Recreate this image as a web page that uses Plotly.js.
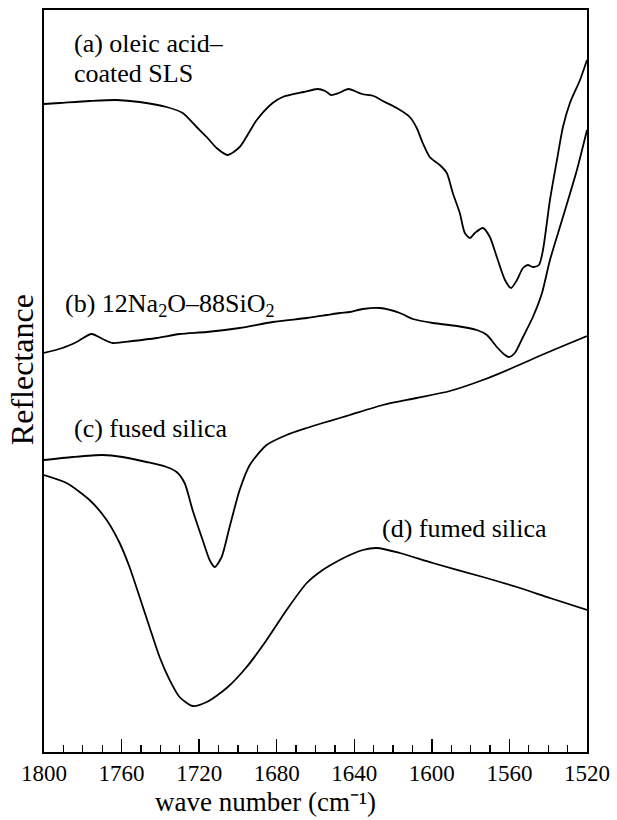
<!DOCTYPE html>
<html>
<head>
<meta charset="utf-8">
<script src="https://cdn.plot.ly/plotly-3.0.1.min.js"></script>
<style>html,body{margin:0;padding:0;background:#fff;}#chart{width:617px;height:820px;}</style>
</head>
<body>
<div id="chart"></div>
<script>
// wave number (cm^-1) and reflectance (arbitrary units, offset spectra)
const wnA = [1800,1792,1776.5,1762.6,1750.7,1736.8,1728.5,1721.3,1716.1,1711,1705.3,1699.1,1690.3,1682.1,1676.9,1666,1659,1655,1652,1648,1643,1636,1630,1625.3,1618.1,1611.4,1607.8,1604.7,1601.1,1595.9,1592.3,1589.2,1585.6,1583,1580.4,1577.8,1573.7,1570.1,1566.5,1562.3,1559.2,1556.1,1553,1550.5,1547.9,1544.8,1542.7,1539.1,1535.5,1532.4,1528.8,1523.6,1520];
const rA  = [648,649,651,652,650,645,639,625,615,604,597,605,632,649,655,660,663,661,657,659,663,658,656,651,644,635,624,609,595,587,579,559,539,519,514,519,524,515,495,472,464,472,484,487,485,487,502,552,592,625,649,672,692];

const wnB = [1800,1790.5,1783.2,1775.5,1769.8,1764.6,1754.3,1741.9,1730.1,1716.1,1699.1,1682.1,1664.5,1654.2,1647.5,1642.3,1635.6,1626.8,1616.5,1609.8,1599.5,1587.1,1576.8,1571.6,1566.5,1562.3,1560.3,1557.2,1553,1547.9,1543.2,1539.1,1532.4,1525.2,1520];
const rB  = [399,404,410,418,413,409,411,414,418,420,424,430,434,437,439,440,443,444,439,433,429,426,422,417,405,397,395,399,415,435,459,492,535,582,622];

const wnC = [1800,1785.3,1769.8,1759.5,1747.1,1736.8,1731.6,1727.5,1723.4,1718.2,1714.6,1712,1708.4,1704.3,1699.1,1693.9,1685.2,1674.9,1664.5,1656.3,1647.5,1642.3,1625.3,1607.8,1590.7,1573.7,1559.8,1545.8,1532.4,1520];
const rC  = [292,295,297,295,290,285,280,269,242,212,192,185,195,225,262,287,307,317,324,329,334,337,347,354,361,372,383,395,406,416];

const wnD = [1800,1788.4,1776.5,1767.7,1761,1755.9,1750.7,1745.6,1740.4,1735.2,1730.1,1723.4,1716.1,1705.8,1695.5,1685.2,1674.9,1664.5,1656.3,1647.5,1642.3,1635.6,1628.4,1616.5,1599.5,1573.7,1556.2,1539.1,1520];
const rD  = [277,269,252,232,209,185,155,125,95,72,55,46,50,64,85,112,142,169,182,192,197,202,204,199,189,175,165,154,142];

const xTicks = [1800,1760,1720,1680,1640,1600,1560,1520];
const labels = ["(a) oleic acid\u2013", "coated SLS", "(b) 12Na<sub>2</sub>O\u201388SiO<sub>2</sub>", "(c) fused silica", "(d) fumed silica"];

const serif = "Liberation Serif, Times New Roman, serif";
const line = {color:'#000', width:1.8, shape:'spline', smoothing:0.7};
const traces = [
  {x:wnA, y:rA, mode:'lines', line:line},
  {x:wnB, y:rB, mode:'lines', line:line},
  {x:wnC, y:rC, mode:'lines', line:line},
  {x:wnD, y:rD, mode:'lines', line:line}
];

const ann = (t, x, y) => ({text:t, x:x, y:y, xref:'x', yref:'y', xanchor:'left', yanchor:'middle', showarrow:false, font:{family:serif, size:26, color:'#000'}});

const layout = {
  width:617, height:820,
  margin:{l:44, r:30, t:10, b:68},
  paper_bgcolor:'#fff', plot_bgcolor:'#fff',
  showlegend:false,
  font:{family:serif, color:'#000'},
  xaxis:{range:[1800,1520], tickvals:xTicks, ticktext:xTicks.map(String), ticks:'inside', ticklen:13, tickwidth:1.3, tickcolor:'#000',
         minor:{dtick:10, ticks:'inside', ticklen:7, tickwidth:1.3, tickcolor:'#000'},
         showline:true, linecolor:'#000', linewidth:1.6, mirror:true, showgrid:false, zeroline:false,
         tickfont:{family:serif, size:23, color:'#000'}},
  yaxis:{range:[0,742], showticklabels:false, ticks:'', showline:true, linecolor:'#000', linewidth:1.6, mirror:true, showgrid:false, zeroline:false},
  annotations:[
    ann(labels[0], 1785.8, 709),
    ann(labels[1], 1785.8, 679),
    ann(labels[2], 1790, 447),
    ann(labels[3], 1785.8, 324),
    ann(labels[4], 1626.8, 224),
    {text:'Reflectance', xref:'paper', yref:'paper', x:-0.04, y:0.515, textangle:-90, showarrow:false, xanchor:'center', yanchor:'middle', font:{family:serif, size:32, color:'#000'}},
    {text:'wave number (cm\u207B\u00B9)', xref:'paper', yref:'paper', x:0.407, y:-0.068, showarrow:false, xanchor:'center', yanchor:'middle', font:{family:serif, size:27, color:'#000'}}
  ]
};
Plotly.newPlot('chart', traces, layout, {staticPlot:true, displayModeBar:false});
</script>
</body>
</html>
